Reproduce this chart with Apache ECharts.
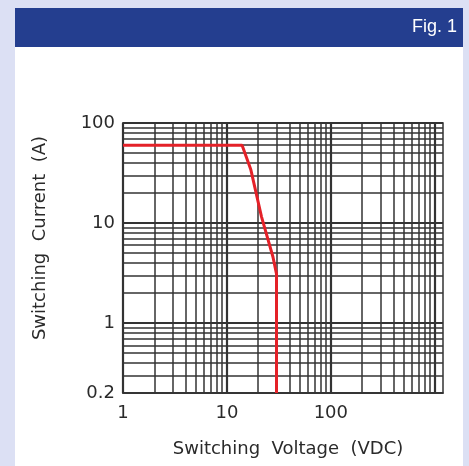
<!DOCTYPE html>
<html>
<head>
<meta charset="utf-8">
<script src="https://cdn.jsdelivr.net/npm/echarts@6/dist/echarts.min.js"></script>
<style>
  html, body { margin: 0; padding: 0; }
  #chart { width: 469px; height: 466px; }
</style>
</head>
<body>
<div id="chart"></div>
<script>
// switching curve, voltage (VDC) / current (A)
let voltage = [1, 14, 17, 21.5, 27.7, 30, 30];
let current = [60, 60, 34, 11.6, 4.6, 3.1, 0.2];

// tick labels
let xTickLabels = [1, 10, 100];
let yTickLabels = [0.2, 1, 10, 100];

// log grid lines
let xGridValues = [1, 2, 3, 4, 5, 6, 7, 8, 9, 10, 20, 30, 40, 50, 60, 70, 80, 90, 100,
  200, 300, 400, 500, 600, 700, 800, 900, 1000];
let yGridValues = [0.2, 0.3, 0.4, 0.5, 0.6, 0.7, 0.8, 0.9, 1, 2, 3, 4, 5, 6, 7, 8, 9, 10,
  20, 30, 40, 50, 60, 70, 80, 90, 100];
let decades = [1, 10, 100, 1000];

function pickLabel(list, v) {
  for (var i = 0; i < list.length; i++) {
    if (Math.abs(v - list[i]) / list[i] < 0.001) {
      return String(list[i]);
    }
  }
  return "";
}

let myChart = echarts.init(document.getElementById("chart"));

let gridLines = [];
for (var i = 0; i < xGridValues.length; i++) {
  gridLines.push({
    xAxis: xGridValues[i],
    lineStyle: { width: decades.indexOf(xGridValues[i]) > -1 ? 2.2 : 1.5 }
  });
}
for (var j = 0; j < yGridValues.length; j++) {
  gridLines.push({
    yAxis: yGridValues[j],
    lineStyle: { width: decades.indexOf(yGridValues[j]) > -1 ? 2.2 : 1.5 }
  });
}

let curveData = [];
for (var k = 0; k < voltage.length; k++) {
  curveData.push([voltage[k], current[k]]);
}

let labelFont = '"DejaVu Sans", sans-serif';

let option = {
  animation: false,
  backgroundColor: "#dce0f4",
  graphic: [
    // white panel
    { type: "rect", left: 15, top: 47, shape: { width: 448, height: 419 }, style: { fill: "#ffffff" }, z: -10 },
    // header bar
    { type: "rect", left: 15, top: 8, shape: { width: 448, height: 39 }, style: { fill: "#243e8f" }, z: -10 },
    {
      type: "text", right: 12, top: 18,
      style: { text: "Fig. 1", fill: "#ffffff", font: '18px "Liberation Sans", Arial, sans-serif' }
    },
    {
      type: "text", x: 288, y: 449,
      style: {
        text: "Switching  Voltage  (VDC)", fill: "#2a2a2a",
        font: "18px " + labelFont, align: "center", verticalAlign: "middle"
      }
    },
    {
      type: "text", x: 40, y: 238, rotation: Math.PI / 2,
      style: {
        text: "Switching  Current  (A)", fill: "#2a2a2a",
        font: "18px " + labelFont, align: "center", verticalAlign: "middle"
      }
    }
  ],
  grid: {
    left: 123,
    top: 123,
    right: 26,
    bottom: 73,
    show: true,
    borderColor: "#333",
    borderWidth: 1.5,
    backgroundColor: "transparent"
  },
  xAxis: {
    type: "log",
    logBase: 10,
    min: 1,
    max: 1200,
    axisLine: { show: true, lineStyle: { color: "#333", width: 1.5 } },
    axisTick: { show: false },
    splitLine: { show: false },
    axisLabel: {
      margin: 11,
      color: "#2a2a2a",
      fontSize: 18,
      fontFamily: "DejaVu Sans",
      showMaxLabel: false,
      formatter: function(v) {
        return pickLabel(xTickLabels, v);
      }
    }
  },
  yAxis: {
    type: "log",
    logBase: 10,
    min: 0.2,
    max: 100,
    axisLine: { show: true, lineStyle: { color: "#333", width: 1.5 } },
    axisTick: { show: false },
    splitLine: { show: false },
    axisLabel: {
      margin: 8,
      color: "#2a2a2a",
      fontSize: 18,
      fontFamily: "DejaVu Sans",
      formatter: function(v) {
        return pickLabel(yTickLabels, v);
      }
    }
  },
  series: [
    {
      // grid
      name: "grid",
      type: "line",
      data: [],
      z: 1,
      markLine: {
        silent: true,
        symbol: "none",
        animation: false,
        label: { show: false },
        lineStyle: { type: "solid", color: "#333", width: 1.5 },
        data: gridLines
      }
    },
    {
      name: "curve",
      type: "line",
      data: curveData,
      z: 5,
      symbol: "none",
      lineStyle: { color: "#e42128", width: 3 }
    }
  ]
};
myChart.setOption(option);
</script>
</body>
</html>
